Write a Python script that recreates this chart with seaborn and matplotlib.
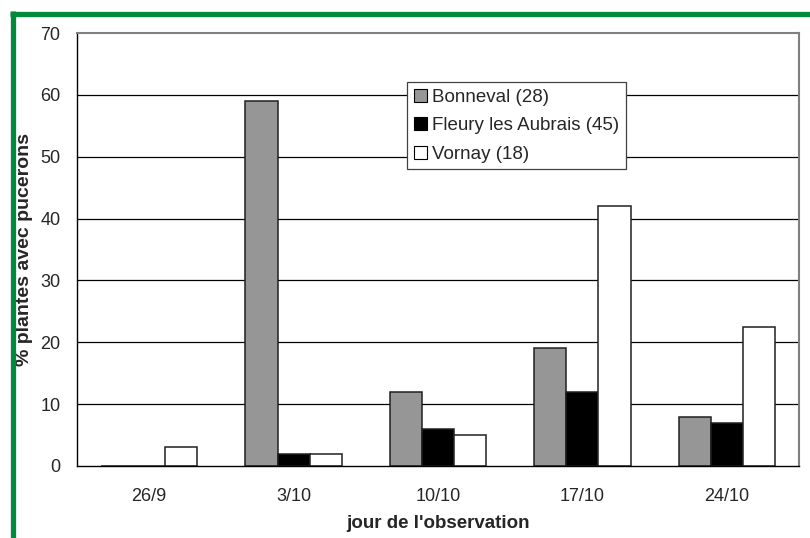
import pandas as pd
import matplotlib.pyplot as plt
import seaborn as sns
from matplotlib.lines import Line2D

# data
dates = ['26/9', '3/10', '10/10', '17/10', '24/10']
bonneval = [0, 59, 12, 19, 8]
fleury = [0, 2, 6, 12, 7]
vornay = [3, 2, 5, 42, 22.5]
sites = ['Bonneval (28)', 'Fleury les Aubrais (45)', 'Vornay (18)']
colors = ['#969696', '#000000', '#ffffff']

df = pd.DataFrame({
    'date': dates * 3,
    'site': [sites[0]] * 5 + [sites[1]] * 5 + [sites[2]] * 5,
    'pct': bonneval + fleury + vornay,
})

sns.set_style('white')
plt.rcParams['font.family'] = ['Liberation Sans', 'DejaVu Sans']

fig = plt.figure(figsize=(8.1, 5.38), dpi=100)
ax = fig.add_axes([77 / 810, 1 - 466 / 538, 722 / 810, 433 / 538])

sns.barplot(data=df, x='date', y='pct', hue='site', palette=colors,
            order=dates, hue_order=sites, width=0.667, gap=0,
            edgecolor='#202020', linewidth=1.1, saturation=1, ax=ax)

ax.set_ylim(0, 70)
ax.set_xlim(-0.5, 4.5)
ax.set_yticks(range(0, 71, 10))
for v in range(10, 70, 10):
    ax.axhline(v, color='black', lw=0.9, zorder=0)

ax.set_xticks(range(5))
ax.set_xticklabels(dates)
ax.set_xticks([i - 0.5 for i in range(6)], minor=True)
ax.tick_params(axis='x', which='major', length=0, pad=16, labelsize=13)
ax.tick_params(axis='x', which='minor', length=6, width=1, color='black', direction='out')
ax.tick_params(axis='y', length=6, width=1, color='black', direction='out', labelsize=13, pad=6)

for side in ['top', 'right']:
    ax.spines[side].set_color('#808080')
    ax.spines[side].set_linewidth(1.5)
for side in ['left', 'bottom']:
    ax.spines[side].set_color('black')
    ax.spines[side].set_linewidth(1)

ax.set_xlabel("jour de l'observation", fontsize=13.5, fontweight='bold', labelpad=7)
ax.set_ylabel('% plantes avec pucerons', fontsize=14, fontweight='bold', labelpad=5)

leg = ax.legend(loc='upper left', bbox_to_anchor=(0.457, 0.886), fontsize=13.5,
                frameon=True, fancybox=False, edgecolor='#404040', framealpha=1,
                handlelength=0.7, handleheight=0.7, handletextpad=0.3,
                labelspacing=0.6, borderpad=0.35, borderaxespad=0)
leg.get_frame().set_linewidth(0.9)
for h in leg.legend_handles:
    h.set_edgecolor('black')
    h.set_linewidth(0.8)

# green frame around the chart
green = '#008a3a'
fig.add_artist(Line2D([10 / 810, 1], [1 - 13.5 / 538] * 2, color=green, lw=3.8,
                      transform=fig.transFigure, solid_capstyle='butt'))
fig.add_artist(Line2D([12.5 / 810] * 2, [0, 1 - 11 / 538], color=green, lw=3.8,
                      transform=fig.transFigure, solid_capstyle='butt'))

fig.savefig('out.png', dpi=100)
